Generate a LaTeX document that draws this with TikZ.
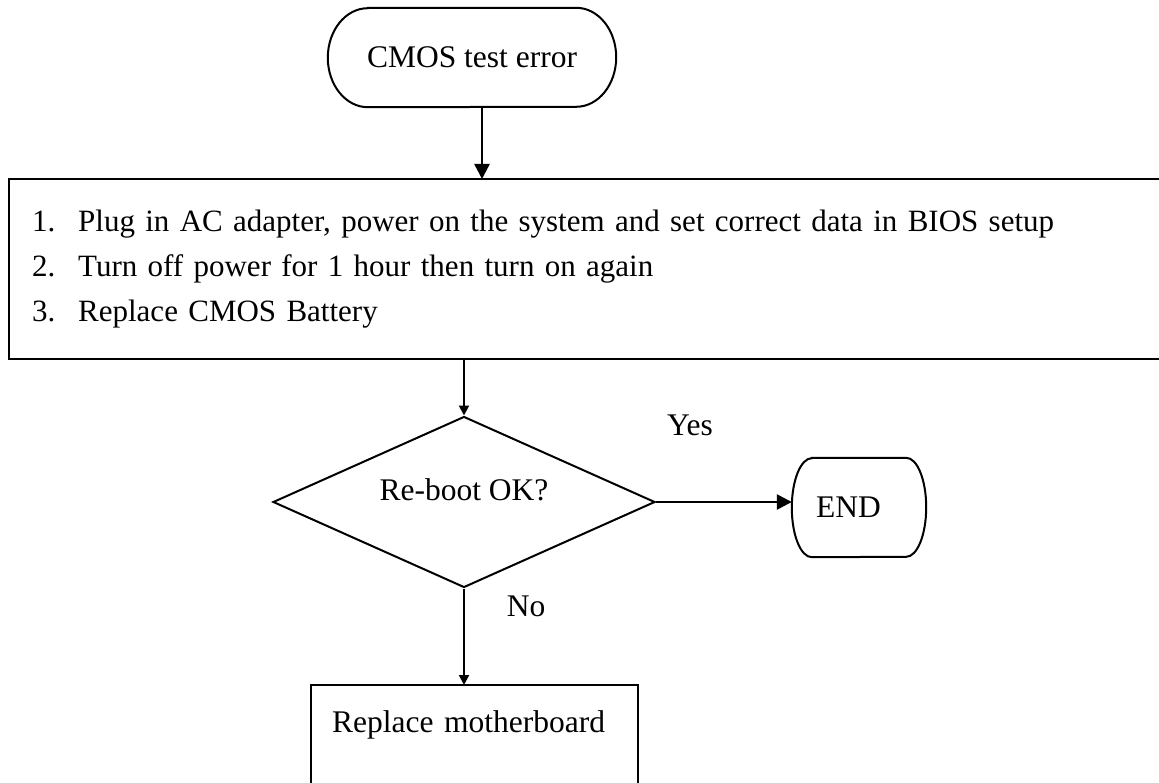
\documentclass[tikz,border=0pt]{standalone}
\usepackage{fontspec}
\setmainfont{Liberation Serif}
\usetikzlibrary{shapes.geometric,arrows.meta}

\begin{document}
\begin{tikzpicture}[x=1pt,y=-1pt,
	schrift/.style={font=\fontsize{31.5}{45}\selectfont},
	listenschrift/.style={font=\fontsize{31}{45}\selectfont},
	rahmen/.style={line width=2pt},
	pfeil/.style={line width=2.5pt,-{Triangle[length=15pt,width=15pt]}},
	pfeilklein/.style={line width=2pt,-{Triangle[length=10pt,width=10pt]}}]
	\useasboundingbox (0,0) rectangle (1159,783);
	%Knoten
	\node[schrift,minimum width=288,minimum height=99,inner sep=0] (start) at (472,57.5) {CMOS test error};
	\node[listenschrift,anchor=north west,minimum height=180,inner xsep=23,inner ysep=0,text width=1104,align=left] (liste) at (9,179)
		{\makebox[46pt][l]{1.}Plug in AC adapter, power on the system and set correct data in BIOS setup\\
		 \makebox[46pt][l]{2.}Turn off power for 1 hour then turn on again\\
		 \makebox[46pt][l]{3.}Replace CMOS Battery};
	\node[schrift,diamond,draw,rahmen,aspect=2.2,minimum width=382,minimum height=171,inner sep=0,text depth=25pt] (frage) at (464,502) {Re-boot OK?};
	\node[schrift,minimum width=134,minimum height=99,inner xsep=24,inner ysep=0,text width=86,align=left] (ende) at (859,507.5) {END};
	\node[schrift,anchor=north west,minimum height=98,inner xsep=21,inner ysep=0,text width=285,align=left,text depth=24.5pt] (mainboard) at (311,685) {Replace motherboard};
	%Rahmen
	\draw[rahmen] ([xshift=40]start.north west) -- ([xshift=-40]start.north east)
		arc[start angle=90,end angle=-90,x radius=40pt,y radius=49.5pt] -- ([xshift=40]start.south west)
		arc[start angle=270,end angle=90,x radius=40pt,y radius=49.5pt] -- cycle;
	\draw[rahmen] ([xshift=20]ende.north west) -- ([xshift=-20]ende.north east)
		arc[start angle=90,end angle=-90,x radius=20pt,y radius=49.5pt] -- ([xshift=20]ende.south west)
		arc[start angle=270,end angle=90,x radius=20pt,y radius=49.5pt] -- cycle;
	\draw[rahmen] (liste.north east) -- (liste.north west) -- (liste.south west) -- (liste.south east);
	\draw[rahmen] (mainboard.south west) -- (mainboard.north west) -- (mainboard.north east) -- (mainboard.south east);
	%Pfeile
	\draw[pfeil] ([xshift=10]start.south) -- ([xshift=10]start.south |- liste.north);
	\draw[pfeilklein] (liste.south -| frage.north) -- (frage.north);
	\draw[pfeil] (frage.east) -- (frage.east -| ende.west);
	\draw[pfeilklein] (frage.south) -- (mainboard.north -| frage.south);
	%Beschriftung Pfeile
	\node[schrift] (ja) at (690,425) {Yes};
	\node[schrift] (nein) at (526,606) {No};
\end{tikzpicture}
\end{document}
